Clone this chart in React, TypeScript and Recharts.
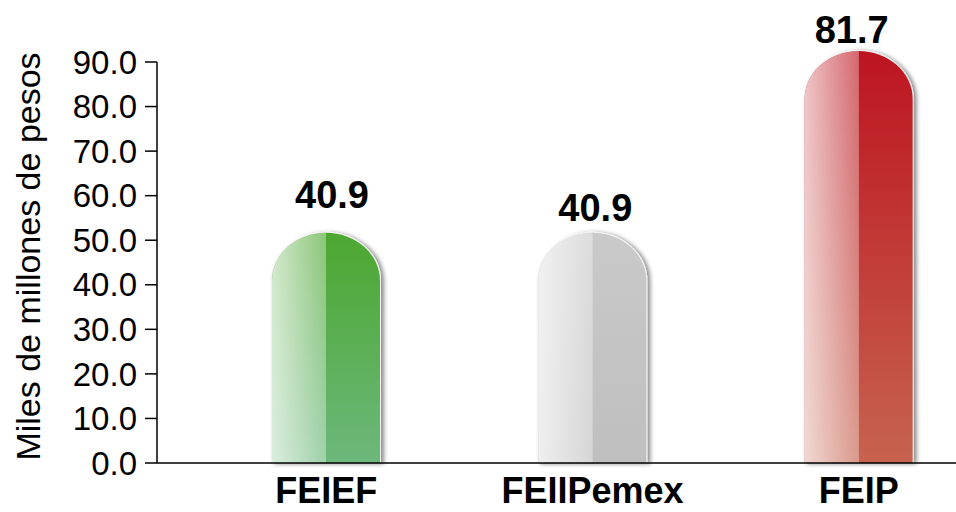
import { BarChart, Bar, XAxis, YAxis, LabelList } from 'recharts';

const categories = ['FEIEF', 'FEIIPemex', 'FEIP'];
const values = [40.9, 40.9, 81.7];
const yTicks = [0, 10, 20, 30, 40, 50, 60, 70, 80, 90];

// top / bottom colour of each bar's darker half
const BAR_COLORS = [
  ['#4ca72f', '#6cb87c'],
  ['#c9c9c9', '#bfbfbf'],
  ['#bd1520', '#c6634f'],
];
const LABEL_LIFT = [73, 60, 56];
const LABEL_DX = [6, 3, -7];
const CAP_RY = 48;
const FONT = '"Liberation Sans", Arial, sans-serif';

const data = categories.map((name, i) => ({ name, value: values[i] }));

function CapsuleBar(props: any) {
  const { x, y, width, height, index } = props;
  const cx = x + width / 2;
  const rx = width / 2;
  const bottom = y + height;
  const left = `M${x},${bottom} L${x},${y} A${rx},${CAP_RY} 0 0 1 ${cx},${y - CAP_RY} L${cx},${bottom} Z`;
  const right = `M${cx},${bottom} L${cx},${y - CAP_RY} A${rx},${CAP_RY} 0 0 1 ${x + width},${y} L${x + width},${bottom} Z`;
  const whole = `M${x},${bottom} L${x},${y} A${rx},${CAP_RY} 0 0 1 ${x + width},${y} L${x + width},${bottom}`;
  return (
    <g>
      <path d={whole} fill="#fff" stroke="#f2f2f2" strokeWidth={2} filter="url(#barShadow)" />
      <path d={left} fill={`url(#vert${index})`} />
      <path d={left} fill="url(#sheen)" />
      <path d={right} fill={`url(#vert${index})`} />
    </g>
  );
}

function ValueLabel(props: any) {
  const { x, y, width, index, value } = props;
  return (
    <text
      x={x + width / 2 + LABEL_DX[index]}
      y={y - LABEL_LIFT[index]}
      textAnchor="middle"
      fontFamily={FONT}
      fontWeight="bold"
      fontSize={38}
      fill="#000"
    >
      {value.toFixed(1)}
    </text>
  );
}

function CategoryTick(props: any) {
  const { x, y, payload } = props;
  return (
    <text x={x} y={y + 40} textAnchor="middle" fontFamily={FONT} fontWeight="bold" fontSize={36} fill="#000">
      {payload.value}
    </text>
  );
}

function YTitle(props: any) {
  const { viewBox } = props;
  const cy = viewBox.y + viewBox.height / 2 - 6;
  return (
    <text x={28} y={cy} transform={`rotate(-90, 28, ${cy})`} textAnchor="middle" dominantBaseline="central" fontFamily={FONT} fontSize={34} fill="#000">
      Miles de millones de pesos
    </text>
  );
}

export default function App() {
  return (
    <div style={{ width: 956, height: 512, background: '#fff' }}>
      <style>{'body{margin:0}'}</style>
      <BarChart width={956} height={512} data={data} margin={{ top: 62, right: 0, bottom: 0, left: 0 }}>
        <defs>
          <filter id="barShadow" x="-20%" y="-20%" width="140%" height="140%">
            <feDropShadow dx={3} dy={1} stdDeviation={2} floodColor="#000" floodOpacity={0.45} />
          </filter>
          <linearGradient id="sheen" x1="0" y1="0" x2="1" y2="0">
            <stop offset="0%" stopColor="#fff" stopOpacity={0.75} />
            <stop offset="100%" stopColor="#fff" stopOpacity={0.35} />
          </linearGradient>
          {BAR_COLORS.map(([top, bot], i) => (
            <linearGradient key={i} id={`vert${i}`} x1="0" y1="0" x2="0" y2="1">
              <stop offset="0%" stopColor={top} />
              <stop offset="100%" stopColor={bot} />
            </linearGradient>
          ))}
        </defs>
        <XAxis
          dataKey="name"
          height={49}
          padding={{ left: 36, right: -36 }}
          tickLine={false}
          tickSize={0}
          tickMargin={0}
          axisLine={{ stroke: '#000', strokeWidth: 1.5 }}
          tick={<CategoryTick />}
          interval={0}
        />
        <YAxis
          width={157}
          domain={[0, 90]}
          ticks={yTicks}
          tickFormatter={(v: number) => v.toFixed(1)}
          tickSize={12}
          tickMargin={8}
          axisLine={{ stroke: '#000', strokeWidth: 1.5 }}
          tickLine={{ stroke: '#000', strokeWidth: 1.5 }}
          tick={{ fill: '#000', fontSize: 33, fontFamily: FONT }}
          label={<YTitle />}
        />
        <Bar dataKey="value" barSize={108} shape={<CapsuleBar />} isAnimationActive={false}>
          <LabelList dataKey="value" content={<ValueLabel />} />
        </Bar>
      </BarChart>
    </div>
  );
}
